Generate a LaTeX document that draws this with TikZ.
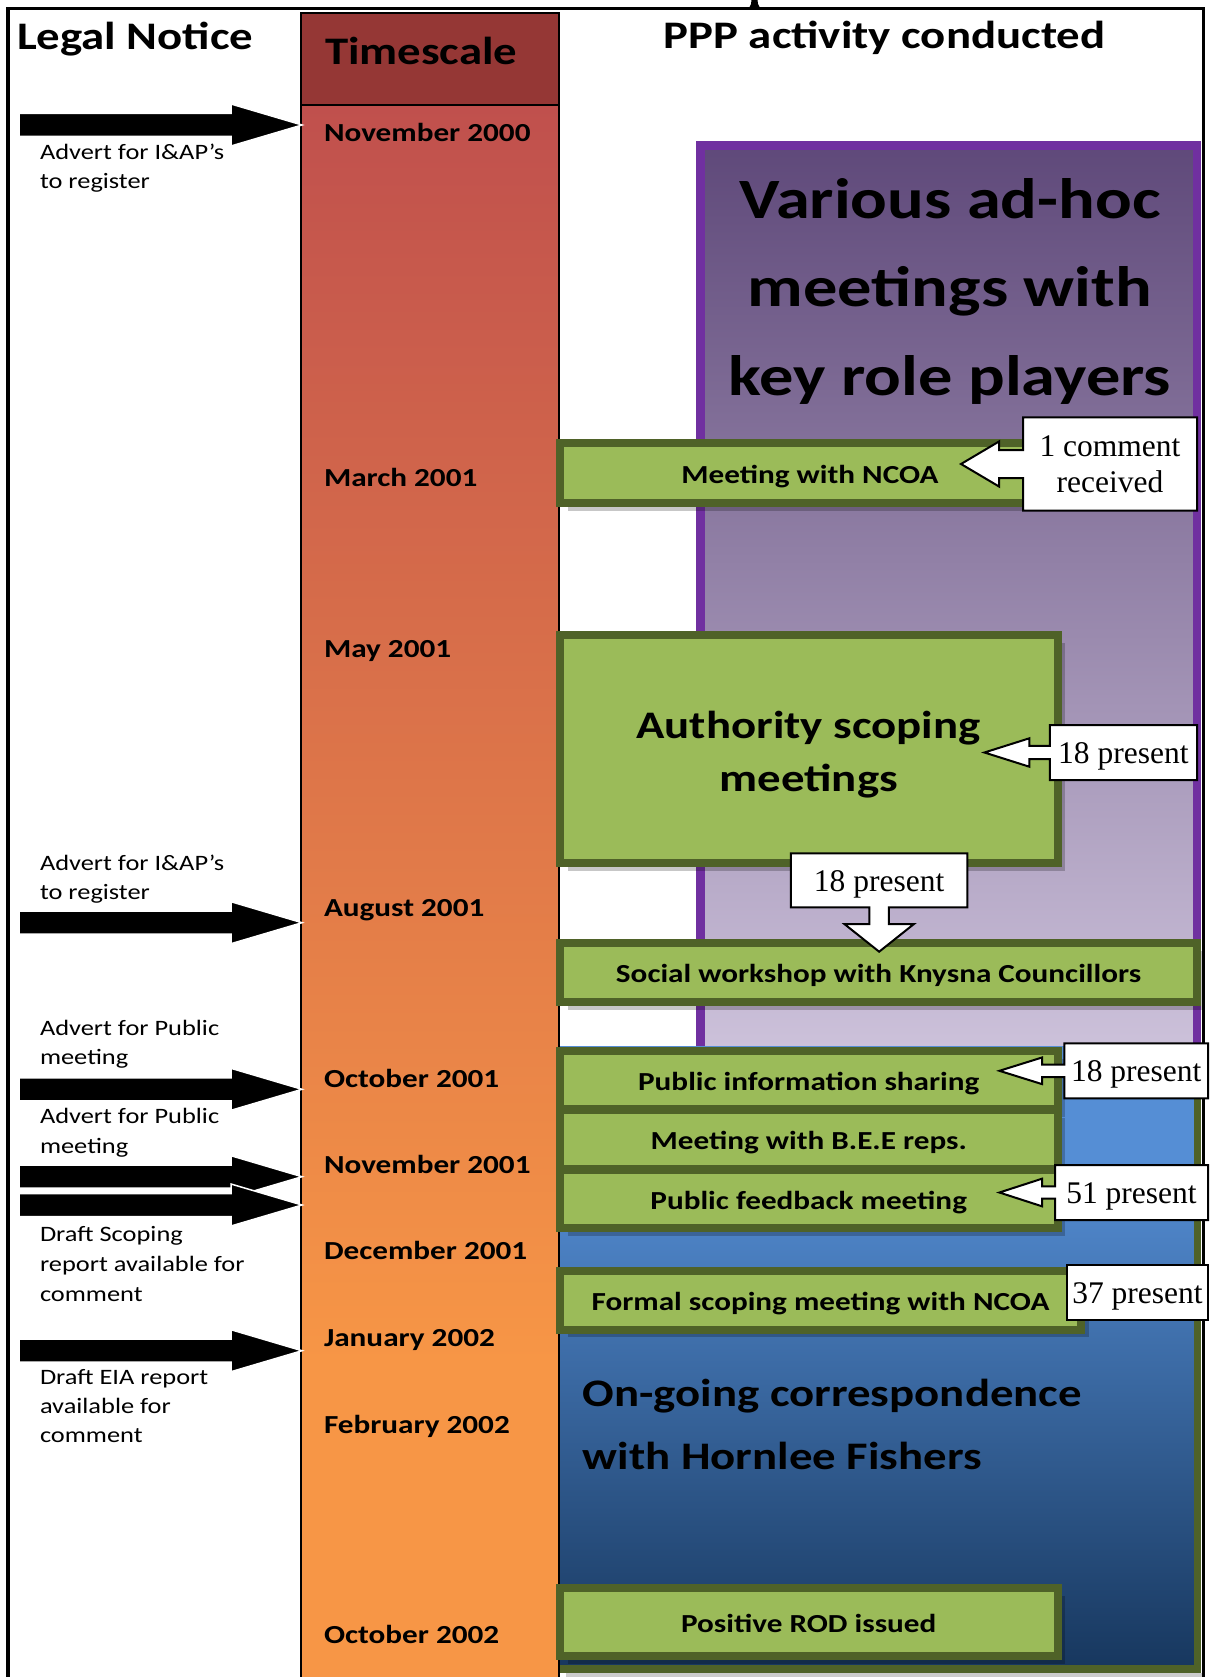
\documentclass[tikz,border=0pt]{standalone}
\usepackage{fontspec}
\usetikzlibrary{calc,shadows}
\newfontfamily\calfont[FakeStretch=1.2]{Carlito}
\newfontfamily\tnrfont{Liberation Serif}

\definecolor{hdrred}{HTML}{953735}
\definecolor{colred}{HTML}{C0504D}
\definecolor{colorange}{HTML}{F79646}
\definecolor{pborder}{HTML}{7030A0}
\definecolor{ptop}{HTML}{5F497A}
\definecolor{pbot}{HTML}{CCC1DA}
\definecolor{gfill}{HTML}{9BBB59}
\definecolor{gline}{HTML}{4F6228}
\definecolor{btop}{HTML}{558ED5}
\definecolor{bbot}{HTML}{17375E}

% timescale column: red at the top fading to orange, flat orange near the bottom
\pgfdeclareverticalshading{tscol}{100bp}{color(0bp)=(colorange); color(25bp)=(colorange); color(35bp)=(colorange); color(75bp)=(colred); color(100bp)=(colred)}
% correspondence panel: light blue on top, navy at the bottom
\pgfdeclareverticalshading{bluecol}{100bp}{color(0bp)=(bbot); color(25bp)=(bbot); color(66bp)=(btop); color(100bp)=(btop)}

\pgfdeclarelayer{callbg}
\pgfdeclarelayer{calltxt}
\pgfsetlayers{main,callbg,calltxt}

\tikzset{
  every node/.style={inner sep=0pt, outer sep=0pt},
  hdr/.style={font=\calfont\bfseries\fontsize{39}{47}\selectfont},
  datelbl/.style={anchor=base west, font=\calfont\bfseries\fontsize{26}{31}\selectfont},
  legal/.style={anchor=base west, font=\calfont\fontsize{22}{29}\selectfont},
  bigtxt/.style={anchor=base, font=\calfont\bfseries\fontsize{57}{68}\selectfont},
  gbox/.style={draw=gline, line width=8pt, fill=gfill,
    font=\calfont\bfseries\fontsize{26}{31}\selectfont,
    text height=20pt, text depth=0pt,
    drop shadow={shadow xshift=7.5pt, shadow yshift=-7.5pt, fill=black, opacity=.22}},
  callfont/.style={font=\tnrfont\fontsize{31.5}{36.3}\selectfont},
  callsingle/.style={callfont, text height=21.6pt, text depth=0pt},
  callline/.style={draw=black, line width=2pt, fill=white},
  fatarrow/.pic={\fill[black, draw=white, line width=1.5pt]
    (0,0) -- (-71,-21) -- (-71,-11.5) -- (-283,-11.5) -- (-283,11.5) -- (-71,11.5) -- (-71,21) -- cycle;}
}

% outline of a text box with a block arrow pointing left:
% #1 node, #2 shaft half height, #3 head half height, #4 head base distance, #5 tip distance
\newcommand\leftcallout[5]{%
  \draw[callline] (#1.north west) -- (#1.north east) -- (#1.south east) -- (#1.south west)
    -- ($(#1.west)+(0,#2)$) -- ($(#1.west)+(-#4,#2)$) -- ($(#1.west)+(-#4,#3)$)
    -- ($(#1.west)+(-#5,0)$)
    -- ($(#1.west)+(-#4,-#3)$) -- ($(#1.west)+(-#4,-#2)$) -- ($(#1.west)+(0,-#2)$) -- cycle;}

\begin{document}
\begin{tikzpicture}[x=1pt, y=-1pt]
\useasboundingbox (0,0) rectangle (1210,1677);
\fill[white] (0,0) rectangle (1210,1677);

% outer frame
\draw[line width=3.6pt] (7.7,1677) -- (7.7,8.7) -- (1203.3,8.7) -- (1203.3,1677);
% glyph fragment sticking through the top edge
\fill (751.5,0) -- (757.5,0) -- (758,4) -- (760.5,9) -- (748.5,9) -- (751,4) -- cycle;

% timescale column
\shade[shading=tscol] (301,105) rectangle (559,1677);
\fill[hdrred] (301,12.7) rectangle (559,105);
\draw[line width=2pt] (301,1677) -- (301,12.7) -- (559,12.7) -- (559,1677) (301,105) -- (559,105);

% ad-hoc meetings panel
\shade[top color=ptop, bottom color=pbot] (700.3,145.5) rectangle (1197,1046);
\draw[pborder, line width=8.5pt] (700.3,1046) -- (700.3,145.5) -- (1197,145.5) -- (1197,1046);

% on-going correspondence panel
\shade[shading=bluecol] (560,1046) rectangle (1197.5,1669);
\fill[black, opacity=.2] (566,1673) rectangle (1205,1677);
\draw[gline, line width=7.5pt] (1197.5,1046) -- (1197.5,1669) -- (560,1669);

% headings
\node[hdr, anchor=base west] (legal) at (17,50) {Legal Notice};
\node[hdr, anchor=base west] (tscale) at (325,65) {Timescale};
\node[hdr, anchor=base] (ppp) at (884.5,49) {PPP activity conducted};

% dates
\node[datelbl] (d1) at (324,141.7) {November 2000};
\node[datelbl] (d2) at (324,486.2) {March 2001};
\node[datelbl] (d3) at (324,657.4) {May 2001};
\node[datelbl] (d4) at (324,916.3) {August 2001};
\node[datelbl] (d5) at (324,1087.5) {October 2001};
\node[datelbl] (d6) at (324,1173.1) {November 2001};
\node[datelbl] (d7) at (324,1259.8) {December 2001};
\node[datelbl] (d8) at (324,1346.4) {January 2002};
\node[datelbl] (d9) at (324,1433.1) {February 2002};
\node[datelbl] (d10) at (324,1643.5) {October 2002};

% panel titles
\node[bigtxt] (v1) at (950,218.3) {Various ad-hoc};
\node[bigtxt] (v2) at (950,306.7) {meetings with};
\node[bigtxt] (v3) at (950,395) {key role players};
\node[hdr, anchor=base west] (og1) at (582.7,1406.7) {On-going correspondence};
\node[hdr, anchor=base west] (og2) at (582.7,1469.3) {with Hornlee Fishers};

% activities
\node[gbox, minimum width=500pt, minimum height=60pt] (g1) at (810,473) {Meeting with NCOA};
\node[gbox, minimum width=497.5pt, minimum height=228pt] (g2) at (808.75,749) {};
\node[hdr, anchor=base] (g2a) at (808.5,738.3) {Authority scoping};
\node[hdr, anchor=base] (g2b) at (808.8,791.7) {meetings};
\node[gbox, minimum width=637pt, minimum height=59pt] (g3) at (878.5,972.5) {Social workshop with Knysna Councillors};
\node[gbox, minimum width=497.5pt, minimum height=58pt] (g4) at (808.75,1080) {Public information sharing};
\node[gbox, minimum width=497.5pt, minimum height=59pt] (g5) at (808.75,1139.5) {Meeting with B.E.E reps.};
\node[gbox, minimum width=497.5pt, minimum height=58pt] (g6) at (808.75,1199) {Public feedback meeting};
\node[gbox, minimum width=521pt, minimum height=59pt] (g7) at (820.5,1300) {Formal scoping meeting with NCOA};
\node[gbox, minimum width=497.5pt, minimum height=68pt] (g8) at (808.75,1622) {Positive ROD issued};

% attendance call-outs
\begin{pgfonlayer}{calltxt}
\node[callfont, align=center, minimum width=174pt, minimum height=93.4pt] (c1) at (1110,464) {1 comment\\received};
\node[callsingle, minimum width=147.2pt, minimum height=55pt] (c2) at (1123.4,752.5) {18 present};
\node[callsingle, minimum width=176.5pt, minimum height=54pt] (c3) at (879.15,880.3) {18 present};
\node[callsingle, minimum width=143.6pt, minimum height=55pt] (c4) at (1136.2,1070.8) {18 present};
\node[callsingle, minimum width=153pt, minimum height=55pt] (c5) at (1131.5,1192.5) {51 present};
\node[callsingle, minimum width=141pt, minimum height=55pt] (c6) at (1137.5,1292.5) {37 present};
\end{pgfonlayer}
\begin{pgfonlayer}{callbg}
\leftcallout{c1}{14}{22.5}{24}{62}
\leftcallout{c2}{6.7}{14.2}{20.5}{65.4}
\draw[callline] (c3.south west) -- (c3.north west) -- (c3.north east) -- (c3.south east)
  -- ($(c3.south)+(9.8,0)$) -- ($(c3.south)+(9.8,16.7)$) -- ($(c3.south)+(34.8,16.7)$)
  -- ($(c3.south)+(0,44.4)$)
  -- ($(c3.south)+(-34.8,16.7)$) -- ($(c3.south)+(-9.8,16.7)$) -- ($(c3.south)+(-9.8,0)$) -- cycle;
\leftcallout{c4}{6.2}{13.3}{22.4}{65}
\leftcallout{c5}{6.2}{13.8}{13}{55.6}
\draw[callline] (c6.north west) rectangle (c6.south east);
\end{pgfonlayer}

% legal notices pointing at the timescale
\coordinate (ad1) at (302,125);
\coordinate (ad2) at (302,922.7);
\coordinate (ad3) at (302,1089.3);
\coordinate (ad4) at (302,1176.7);
\coordinate (ad5) at (302,1205);
\coordinate (ad6) at (302,1350.7);
\foreach \a in {ad1,ad2,ad3,ad4,ad5,ad6} \pic at (\a) {fatarrow};

\node[legal] (n1a) at (40,159.3) {Advert for I\&AP’s};
\node[legal] (n1b) at (40,188.3) {to register};
\node[legal] (n2a) at (40,870) {Advert for I\&AP’s};
\node[legal] (n2b) at (40,899) {to register};
\node[legal] (n3a) at (40,1035) {Advert for Public};
\node[legal] (n3b) at (40,1064) {meeting};
\node[legal] (n4a) at (40,1123) {Advert for Public};
\node[legal] (n4b) at (40,1153) {meeting};
\node[legal] (n5a) at (40,1241.7) {Draft Scoping};
\node[legal] (n5b) at (40,1271.7) {report available for};
\node[legal] (n5c) at (40,1301.7) {comment};
\node[legal] (n6a) at (40,1384) {Draft EIA report};
\node[legal] (n6b) at (40,1413.3) {available for};
\node[legal] (n6c) at (40,1442.7) {comment};
\end{tikzpicture}
\end{document}
